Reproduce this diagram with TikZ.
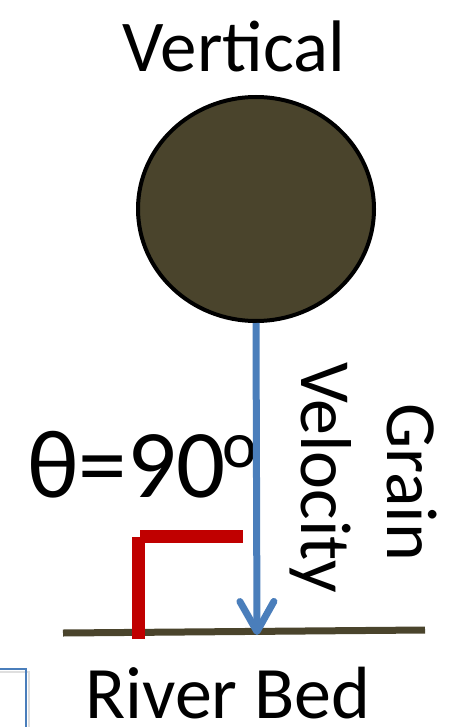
\documentclass[tikz,border=0pt]{standalone}
\usepackage{fontspec}
\setmainfont{Carlito}
\usetikzlibrary{arrows.meta,shapes.geometric}
\definecolor{bedbrown}{HTML}{4A442C}
\definecolor{officeblue}{HTML}{4A7EBB}
\definecolor{darkred}{HTML}{C00000}
\tikzset{
  lbl/.style={inner sep=0pt, text=black},
  bedline/.style={draw=bedbrown, line width=7pt},
  redbar/.style={draw=darkred, line width=13pt},
  velarrow/.style={draw=officeblue, line width=7pt, -{Straight Barb[length=30pt,width=34pt,round]}},
}
\begin{document}
\begin{tikzpicture}[x=1pt,y=-1pt]
\useasboundingbox (0,0) rectangle (453,727);
% partial frame at bottom left
\begin{scope}
\clip (0,0) rectangle (453,727);
\draw[gray!25, line width=2pt] (-20,672) -- (29,672) -- (29,740);
\draw[officeblue, line width=1.3pt] (-20,669) -- (26,669) -- (26,740);
\end{scope}
% texts
\node[lbl, font=\fontsize{73}{80}\selectfont, anchor=base] (vert) at (234,72) {Vertical};
\node[lbl, font=\fontsize{74}{74}\selectfont, anchor=base west, text depth=0pt] (river) at (85,718) {River Bed};
\node[lbl, font=\fontsize{97}{100}\selectfont, anchor=base west] (theta) at (27,497) {θ=90\hspace{-3pt}\raisebox{30pt}{\fontsize{66}{70}\selectfont o}};
\node[lbl, font=\fontsize{72}{80}\selectfont, anchor=base west, rotate=-90] (velo) at (301,362) {Velocity};
\node[lbl, font=\fontsize{72}{80}\selectfont, anchor=base west, rotate=-90] (grainlbl) at (387,403) {Grain};
% grain
\node[ellipse, draw=black, fill=bedbrown, line width=4pt, minimum width=236pt, minimum height=224pt, inner sep=0pt] (grain) at (256,209) {};
% river bed
\coordinate (bedL) at (63,633);
\coordinate (bedR) at (425,630);
\draw[bedline] (bedL) -- (bedR);
% right angle mark
\coordinate (rA) at (138.5,639);
\coordinate (rB) at (138.5,537);
\coordinate (rC) at (140,536.5);
\coordinate (rD) at (243,536.5);
\draw[redbar] (rA) -- (rB);
\draw[redbar] (rC) -- (rD);
% velocity arrow
\coordinate (tip) at (257,635);
\draw[velarrow] (grain.south) -- (tip);
\end{tikzpicture}
\end{document}
